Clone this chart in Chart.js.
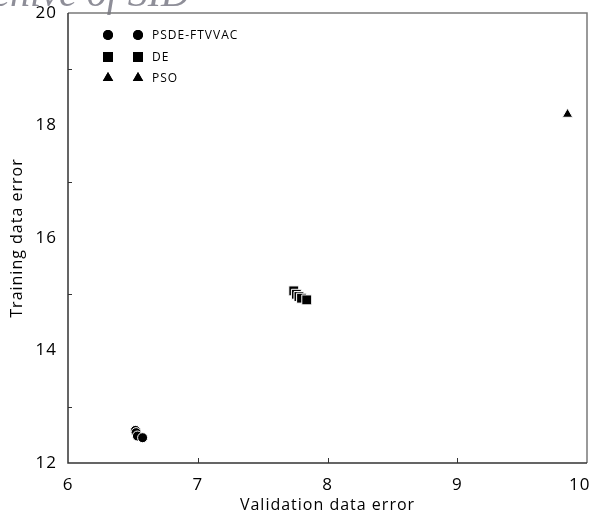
<!DOCTYPE html>
<html>
<head>
<meta charset="utf-8">
<script src="https://cdn.jsdelivr.net/npm/chart.js@4"></script>
<style>
  html, body { margin: 0; padding: 0; background: #fff; }
  #wrap { width: 595px; height: 515px; }
</style>
</head>
<body>
<div id="wrap"><canvas id="error_chart" width="595" height="515"></canvas></div>
<script>
var series_names = ['PSDE-FTVVAC', 'DE', 'PSO'];
var series_styles = ['circle', 'rect', 'triangle'];

// validation error (x) / training error (y) for each run
var psde_validation = [6.52, 6.525, 6.535, 6.575];
var psde_training = [12.58, 12.54, 12.48, 12.45];
var de_validation = [7.74, 7.76, 7.78, 7.80, 7.84];
var de_training = [15.06, 15.00, 14.96, 14.93, 14.90];
var pso_validation = [9.85];
var pso_training = [18.2];

var x_ticks = [6, 7, 8, 9, 10];
var y_ticks = [12, 14, 16, 18, 20];

function to_points(xs, ys) {
  return xs.map(function(x, i){ return {x: x, y: ys[i]}; });
}

var font_family = '"Open Sans", "DejaVu Sans", sans-serif';

var frame_plugin = {
  id: 'frame',
  beforeDraw: function(chart) {
    var ctx = chart.ctx;
    ctx.save();
    ctx.fillStyle = '#fff';
    ctx.fillRect(0, 0, chart.width, chart.height);
    // faint header text cut by the top edge
    ctx.font = 'italic 40px "Liberation Serif", serif';
    ctx.fillStyle = '#8e8e98';
    ctx.textAlign = 'right';
    ctx.textBaseline = 'alphabetic';
    ctx.fillText('Archive of SID', 190, 6);
    ctx.restore();
    // spaced lettering for axis text
    ctx.letterSpacing = '1px';
  },
  afterDraw: function(chart) {
    var ctx = chart.ctx;
    var a = chart.chartArea;
    var xs = chart.scales.x, ys = chart.scales.y;
    ctx.save();
    ctx.letterSpacing = '0px';
    // top / right border
    ctx.strokeStyle = '#7a7a7a';
    ctx.lineWidth = 1.5;
    ctx.beginPath();
    ctx.moveTo(a.left, a.top);
    ctx.lineTo(a.right, a.top);
    ctx.lineTo(a.right, a.bottom);
    ctx.stroke();
    // axis lines
    ctx.strokeStyle = '#333';
    ctx.lineWidth = 1.5;
    ctx.beginPath();
    ctx.moveTo(a.left, a.top);
    ctx.lineTo(a.left, a.bottom);
    ctx.lineTo(a.right, a.bottom);
    ctx.stroke();
    // inward ticks
    ctx.lineWidth = 1;
    ctx.beginPath();
    [7, 8, 9].forEach(function(v){
      var px = Math.round(xs.getPixelForValue(v)) + 0.5;
      ctx.moveTo(px, a.bottom);
      ctx.lineTo(px, a.bottom - 5);
    });
    [13, 15, 17, 19].forEach(function(v){
      var py = Math.round(ys.getPixelForValue(v)) + 0.5;
      ctx.moveTo(a.left, py);
      ctx.lineTo(a.left + 4, py);
    });
    ctx.stroke();

    // legend: marker, marker, name
    ctx.letterSpacing = '1px';
    ctx.font = '12px ' + font_family;
    ctx.textBaseline = 'middle';
    ctx.textAlign = 'left';
    ctx.fillStyle = '#000';
    var rows = [35, 57, 78];
    var radii = [5, 7, 6];
    series_names.forEach(function(name, i){
      [108, 138].forEach(function(mx){
        Chart.helpers.drawPoint(ctx, {pointStyle: series_styles[i], radius: radii[i], borderWidth: 0}, mx, rows[i]);
        ctx.fill();
      });
      ctx.fillText(name, 152, rows[i] + 1);
    });
    ctx.restore();
  }
};

var datasets = [
  {label: series_names[0], data: to_points(psde_validation, psde_training), pointStyle: series_styles[0], pointRadius: 5},
  {label: series_names[1], data: to_points(de_validation, de_training), pointStyle: series_styles[1], pointRadius: 7},
  {label: series_names[2], data: to_points(pso_validation, pso_training), pointStyle: series_styles[2], pointRadius: 6}
].map(function(d){
  d.backgroundColor = '#000';
  d.borderColor = '#fff';
  d.borderWidth = 1;
  d.pointHoverRadius = d.pointRadius;
  return d;
});

new Chart(document.getElementById('error_chart').getContext('2d'), {
  type: 'scatter',
  data: {datasets: datasets},
  plugins: [frame_plugin],
  options: {
    responsive: false,
    animation: false,
    layout: {padding: {top: 13, right: 4, left: 0, bottom: 0}},
    plugins: {legend: {display: false}, tooltip: {enabled: false}},
    scales: {
      x: {
        type: 'linear', min: 6, max: 10,
        afterBuildTicks: function(s){ s.ticks = x_ticks.map(function(v){ return {value: v}; }); },
        afterFit: function(s){ s.height = 52; s.paddingLeft = 0; s.paddingRight = 0; },
        grid: {display: false},
        border: {display: false},
        ticks: {
          color: '#000', font: {family: font_family, size: 17}, padding: 4, maxRotation: 0,
          // keep the last label inside the canvas edge
          callback: function(v){ return v === 10 ? v + '\u2007\u2009' : String(v); }
        },
        title: {display: true, text: 'Validation data error', color: '#000', font: {family: font_family, size: 16}, padding: {top: 0, bottom: 0}}
      },
      y: {
        type: 'linear', min: 12, max: 20,
        afterBuildTicks: function(s){ s.ticks = y_ticks.map(function(v){ return {value: v}; }); },
        afterFit: function(s){ s.width = 68; s.paddingTop = 0; s.paddingBottom = 0; },
        grid: {display: false},
        border: {display: false},
        ticks: {color: '#000', font: {family: font_family, size: 17}, padding: 3},
        title: {display: true, text: 'Training data error', color: '#000', font: {family: font_family, size: 16}, padding: {top: 8, bottom: 0}}
      }
    }
  }
});
</script>
</body>
</html>
